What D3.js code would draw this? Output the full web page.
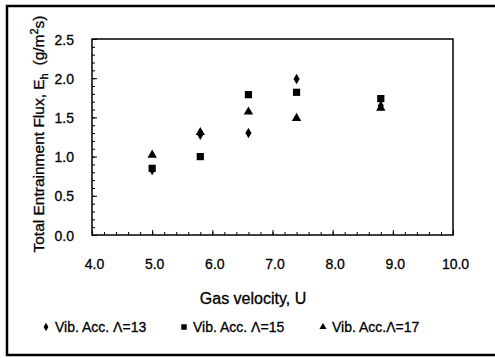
<!DOCTYPE html>
<html>
<head>
<meta charset="utf-8">
<script src="https://cdn.jsdelivr.net/npm/d3@7"></script>
<style>
  body { margin: 0; background: #fff; }
  svg { display: block; font-family: Arial, "Liberation Sans", sans-serif; }
  svg text { fill: #000; stroke: #000; stroke-width: 0.3px; }
</style>
</head>
<body>
<svg id="chart" width="495" height="358"></svg>
<script>
// gas velocity U for each run
const gasVelocity = [5.0, 5.8, 6.6, 7.4, 8.8];
// total entrainment flux E_h (g/m2s) per vibration acceleration
const fluxL13 = [0.83, 1.28, 1.30, 1.99, 1.65];
const fluxL15 = [0.85, 1.00, 1.79, 1.82, 1.74];
const fluxL17 = [1.02, 1.31, 1.57, 1.49, 1.62];
const seriesNames = ['Vib. Acc. \u039B=13', 'Vib. Acc. \u039B=15', 'Vib. Acc.\u039B=17'];
const xTicks = [4, 5, 6, 7, 8, 9, 10];
const yTicks = [0, 0.5, 1.0, 1.5, 2.0, 2.5];

const svg = d3.select('#chart');
const margin = { left: 92, right: 42, top: 39, bottom: 123 };
const width = 495 - margin.left - margin.right;
const height = 358 - margin.top - margin.bottom;

// outer frame (right edge runs off the picture)
svg.append('path')
    .attr('d', 'M500,6 H7 V355 H500')
    .attr('fill', 'none')
    .attr('stroke', '#000')
    .attr('stroke-width', 2.5);

const g = svg.append('g').attr('transform', `translate(${margin.left},${margin.top})`);

const x = d3.scaleLinear().domain([4, 10]).range([0, width]);
const y = d3.scaleLinear().domain([0, 2.5]).range([height, 0]);

// minor ticks first
g.append('g')
    .attr('transform', `translate(0,${height})`)
    .call(d3.axisBottom(x).tickValues(d3.range(4, 10.01, 0.2)).tickSize(-3).tickFormat(''))
    .call(a => a.select('.domain').remove());
g.append('g')
    .call(d3.axisLeft(y).tickValues(d3.range(0, 2.51, 0.1)).tickSize(-3).tickFormat(''))
    .call(a => a.select('.domain').remove());

// major ticks + labels
const xAxis = g.append('g')
    .attr('transform', `translate(0,${height})`)
    .call(d3.axisBottom(x).tickValues(xTicks).tickSize(-5).tickPadding(24).tickFormat(d3.format('.1f')));
xAxis.select('.domain').remove();
xAxis.selectAll('text').attr('font-size', 14).attr('dx', 2);

const yAxis = g.append('g')
    .call(d3.axisLeft(y).tickValues(yTicks).tickSize(-5).tickPadding(18).tickFormat(d3.format('.1f')));
yAxis.select('.domain').remove();
yAxis.selectAll('text').attr('font-size', 14).attr('dy', '0.36em');

g.selectAll('.tick line').attr('stroke', '#000').attr('stroke-width', 1);

// plot box
g.append('rect')
    .attr('width', width).attr('height', height)
    .attr('fill', 'none').attr('stroke', '#000').attr('stroke-width', 1.5);

// markers
const symbols = [
    d3.symbol().type(d3.symbolDiamond).size(32),
    d3.symbol().type(d3.symbolSquare).size(52),
    d3.symbol().type(d3.symbolTriangle).size(38)
];
const allSeries = [fluxL13, fluxL15, fluxL17];

allSeries.forEach((vals, i) => {
    g.append('g').selectAll('path')
        .data(vals)
        .join('path')
        .attr('d', symbols[i])
        .attr('transform', (d, j) => `translate(${x(gasVelocity[j])},${y(d)})`)
        .attr('fill', '#000');
});

// axis titles
svg.append('text')
    .attr('x', 253).attr('y', 304)
    .attr('text-anchor', 'middle')
    .attr('font-size', 16)
    .text('Gas velocity, U');

const yTitle = svg.append('text')
    .attr('transform', 'translate(44,134) rotate(-90)')
    .attr('text-anchor', 'middle')
    .attr('font-size', 15.5);
yTitle.append('tspan').text('Total Entrainment Flux, E');
yTitle.append('tspan').attr('font-size', 11).attr('dy', 4).text('h');
yTitle.append('tspan').attr('dy', -4).text('\u2002(g/m');
yTitle.append('tspan').attr('font-size', 11).attr('dy', -6).text('2');
yTitle.append('tspan').attr('dy', 6).text('s)');

// legend
const legendX = [46, 184, 323];
const legendSymbols = [
    d3.symbol().type(d3.symbolDiamond).size(20),
    d3.symbol().type(d3.symbolSquare).size(30),
    d3.symbol().type(d3.symbolTriangle).size(22)
];
seriesNames.forEach((name, i) => {
    const item = svg.append('g').attr('transform', `translate(${legendX[i]},327)`);
    item.append('path').attr('d', legendSymbols[i]).attr('fill', '#000');
    item.append('text').attr('x', 9).attr('y', 5).attr('font-size', 14).text(name);
});
</script>
</body>
</html>
